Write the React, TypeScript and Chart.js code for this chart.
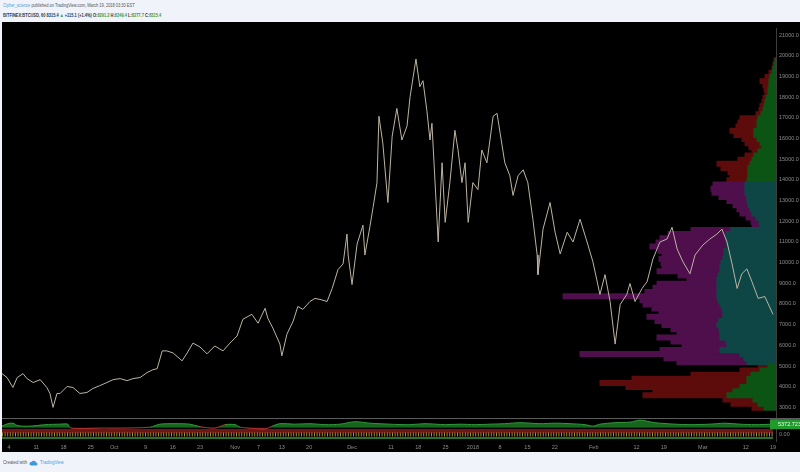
import React, { useEffect, useRef } from 'react';
import { Chart, registerables } from 'chart.js';

Chart.register(...registerables);

// ---- price series (BITFINEX:BTCUSD, 60) : day index since Sep 1 2017, price ----
const priceDays = [
  1.2, 2.5, 4.0, 5.1, 6.6, 7.6, 9.2, 11.0, 12.7, 13.5,
  14.3, 15.3, 16.1, 17.9, 19.4, 21.2, 23.0, 24.5, 26.3, 28.1,
  29.7, 31.5, 33.3, 34.8, 36.6, 38.4, 39.9, 41.0, 42.3, 43.5,
  45.1, 47.4, 48.7, 50.2, 52.0, 53.8, 55.8, 57.9, 59.7, 61.5,
  63.0, 65.3, 66.9, 68.7, 69.4, 70.7, 72.5, 73.0, 74.3, 75.9,
  77.1, 78.4, 80.2, 81.5, 82.8, 84.6, 85.9, 87.4, 88.7, 89.7,
  90.0, 91.0, 92.3, 93.8, 94.3, 95.6, 96.4, 97.4, 97.9, 98.9,
  100.2, 101.3, 102.5, 103.8, 105.1, 105.9, 107.4, 108.4, 109.2, 110.2,
  111.0, 111.5, 112.8, 113.1, 114.1, 114.9, 116.1, 117.4, 118.2, 119.2,
  120.0, 120.8, 122.0, 123.3, 124.3, 125.6, 127.2, 128.2, 129.0, 130.2,
  131.5, 132.3, 133.6, 134.9, 136.1, 137.4, 138.5, 138.7, 140.0, 141.8,
  143.1, 144.4, 146.2, 147.7, 149.5, 151.3, 152.8, 154.6, 155.9, 157.2,
  158.5, 159.8, 161.5, 162.3, 163.6, 165.4, 166.7, 168.2, 170.0, 171.8,
  173.1, 174.4, 175.9, 177.7, 179.0, 181.0, 182.8, 184.6, 185.9, 187.2,
  188.5, 189.8, 191.0, 192.3, 193.6, 195.2, 196.9, 199.0,
];
const priceValues = [
  4630, 4440, 3960, 4440, 4630, 4390, 4200, 4340, 3960, 3670,
  3000, 3670, 3670, 4010, 3960, 3670, 3720, 3910, 4050, 4200,
  4340, 4390, 4290, 4390, 4440, 4680, 4820, 4870, 5730, 5730,
  5630, 5250, 5630, 6110, 5920, 5590, 5970, 5730, 6110, 6450,
  7260, 7500, 7070, 7790, 7310, 6830, 6060, 5490, 6540, 7170,
  7880, 7740, 8120, 8270, 8220, 8120, 8750, 9660, 9940, 11380,
  10370, 8940, 10900, 11810, 10370, 11760, 12670, 13870, 17080, 15780,
  12910, 16120, 17460, 15930, 16600, 18030, 19850, 18510, 18800, 17360,
  15930, 16740, 12100, 11000, 14830, 11950, 13870, 16400, 15450, 13870,
  14830, 11950, 13870, 13530, 15450, 14830, 17080, 17220, 16260, 14830,
  14200, 13250, 14200, 14490, 13870, 12100, 10370, 9420, 11620, 12910,
  11470, 10420, 11470, 11000, 12100, 11000, 10040, 8460, 9420, 8120,
  6060, 7980, 8460, 8990, 8120, 8750, 9080, 10180, 11000, 11140,
  11710, 10660, 10040, 9460, 10370, 10850, 11140, 11380, 11620, 11000,
  9940, 8750, 9460, 9700, 9080, 8270, 8360, 7500,
];

// ---- axis ticks ----
const xTickDays = [3, 10, 17, 24, 30, 38, 45, 52, 61, 67, 73, 80, 91, 101, 108, 115, 122, 129, 136, 143, 153, 164, 171, 181, 192, 199];
const xTickLabels = ['4', '11', '18', '25', 'Oct', '9', '16', '23', 'Nov', '7', '13', '20', 'Dec', '11', '18', '25', '2018', '8', '15', '22', 'Feb', '12', '19', 'Mar', '12', '19'];
const priceTicks = [3000, 4000, 5000, 6000, 7000, 8000, 9000, 10000, 11000, 12000, 13000, 14000, 15000, 16000, 17000, 18000, 19000, 20000, 21000];

// ---- volume profile rows (price row centre, up volume, down volume) ----
const profilePrices = [
  19900, 19700, 19500, 19300, 19100, 18900, 18700, 18500, 18300, 18100,
  17900, 17700, 17500, 17300, 17100, 16900, 16700, 16500, 16300, 16100,
  15900, 15700, 15500, 15300, 15100, 14900, 14700, 14500, 14300, 14100,
  13900, 13700, 13500, 13300, 13100, 12900, 12700, 12500, 12300, 12100,
  11900, 11700, 11500, 11300, 11100, 10900, 10700, 10500, 10300, 10100,
  9900, 9700, 9500, 9300, 9100, 8900, 8700, 8500, 8300, 8100,
  7900, 7700, 7500, 7300, 7100, 6900, 6700, 6500, 6300, 6100,
  5900, 5700, 5500, 5300, 5100, 4900, 4700, 4500, 4300, 4100,
  3900, 3700, 3500, 3300, 3100,
];
const profileUp = [
  1, 2, 3, 4, 6, 7, 7, 8, 8, 10,
  11, 12, 13, 15, 18, 19, 19, 22, 22, 19,
  16, 14, 18, 22, 24, 26, 28, 28, 28, 29,
  31, 31, 31, 29, 29, 28, 26, 24, 20, 17,
  16, 45, 50, 50, 50, 49, 52, 52, 53, 55,
  56, 56, 58, 59, 59, 59, 59, 59, 58, 56,
  54, 53, 53, 57, 59, 57, 56, 56, 50, 49,
  56, 36, 32, 29, 8, 16, 25, 29, 29, 36,
  43, 49, 23, 18, 12,
];
const profileDown = [
  1, 1, 1, 3, 5, 9, 6, 4, 3, 3,
  3, 4, 4, 5, 18, 19, 21, 24, 20, 15,
  15, 13, 6, 9, 14, 33, 27, 20, 18, 20,
  32, 34, 33, 28, 20, 15, 13, 12, 10, 8,
  8, 40, 58, 66, 70, 77, 66, 62, 64, 60,
  58, 63, 40, 30, 60, 64, 72, 154, 78, 77,
  70, 64, 76, 64, 55, 48, 43, 63, 55, 45,
  60, 160, 80, 70, 10, 20, 60, 115, 147, 114,
  80, 84, 30, 27, 12,
];
const valueAreaLow = 5200;
const valueAreaHigh = 14000;

// ---- lower indicator ----
const indDays = [
  1.2, 2.7, 4.0, 5.3, 8.4, 12.2, 16.1, 18.1, 18.6, 21.2,
  26.3, 31.5, 39.2, 41.7, 45.6, 49.4, 52.0, 55.8, 58.4, 61.0,
  62.3, 66.1, 68.7, 70.5, 72.5, 76.4, 80.2, 84.1, 87.9, 91.8,
  95.6, 100.7, 105.9, 109.7, 114.9, 118.7, 122.6, 126.4, 130.2, 134.1,
  139.2, 143.1, 146.9, 150.8, 152.8, 154.6, 158.5, 162.3, 164.9, 168.7,
  173.9, 177.7, 182.8, 186.7, 190.5, 194.4, 199.0,
];
const indValues = [
  1.5, 4, 4.5, 2, 1.5, 3, 3.5, 3.5, 0, -1,
  -0.5, -0.5, 0.5, 3.5, 4, 3.5, 1, -0.5, 3, 3,
  0.5, -1, -1.5, 1.5, 4, 3.5, 4, 3, 3.5, 6,
  4.5, 3.5, 3, 4, 3, 3.5, 3, 3.5, 4, 5,
  4, 4.5, 4, 3, 1.5, 3.5, 5, 5.5, 7.5, 5,
  3.5, 3, 3.5, 4.5, 3.5, 3, 3.5,
];
const indicatorLabel = '5372.723';
const zeroLabel = '0.00';
const ribbonLevels = [-3.5, -7, -10.5];
const zeroLabelLevel = -6.5;
const separatorLevel = 9.5;

const X_MIN = 1.2;
const X_MAX = 199.77;
const PRICE_MIN = 1372;
const PRICE_MAX = 21335;

const GREEN = '#0c5414';
const RED = '#5e0b0b';
const PURPLE = '#4e0f4c';
const TEAL = '#0e4646';

export default function App() {
  const canvasRef = useRef<HTMLCanvasElement | null>(null);

  useEffect(() => {
    document.body.style.margin = '0';
    const canvas = canvasRef.current;
    if (!canvas) return;
    const inVA = (p: number) => p >= valueAreaLow && p <= valueAreaHigh;
    const upColors = profilePrices.map((p) => (inVA(p) ? TEAL : GREEN));
    const downColors = profilePrices.map((p) => (inVA(p) ? PURPLE : RED));
    const lastDay = priceDays[priceDays.length - 1];

    const bgPlugin = {
      id: 'bg',
      beforeDraw(chart: any) {
        const { ctx } = chart;
        ctx.save();
        ctx.fillStyle = '#000';
        ctx.fillRect(0, 0, chart.width, chart.height);
        ctx.restore();
      },
    };
    const overlayPlugin = {
      id: 'overlay',
      afterDraw(chart: any) {
        const { ctx, chartArea, scales } = chart;
        const yi = scales.yi;
        const W = chart.width;
        ctx.save();
        const ySep = Math.round(yi.getPixelForValue(separatorLevel)) + 0.5;
        ctx.strokeStyle = '#5c5c5c';
        ctx.lineWidth = 1;
        ctx.beginPath();
        ctx.moveTo(0, ySep);
        ctx.lineTo(W, ySep);
        ctx.stroke();
        const yl = yi.getPixelForValue(indValues[indValues.length - 1]);
        ctx.fillStyle = '#1f9a2c';
        ctx.fillRect(chartArea.right - 6, yl - 5, W - chartArea.right + 6, 10);
        ctx.font = '5.5px "Liberation Sans", Arial, sans-serif';
        ctx.textBaseline = 'middle';
        ctx.textAlign = 'left';
        ctx.fillStyle = '#e9ffe9';
        ctx.fillText(indicatorLabel, chartArea.right + 2, yl);
        ctx.fillStyle = '#8c8c8c';
        ctx.fillText(zeroLabel, chartArea.right + 3, yi.getPixelForValue(zeroLabelLevel));
        ctx.restore();
      },
    };

    const tickFont = { size: 5.5, family: '"Liberation Sans", Arial, sans-serif' };

    const profileBar = {
      type: 'bar',
      indexAxis: 'y',
      xAxisID: 'xv',
      yAxisID: 'y',
      stack: 'vp',
      borderWidth: 0,
      barThickness: 5,
      inflateAmount: 0.5,
      order: 5,
    };

    const chart = new Chart(canvas, {
      type: 'line',
      data: {
        datasets: [
          {
            type: 'line',
            label: 'price',
            data: priceDays.map((d, i) => ({ x: d, y: priceValues[i] })),
            xAxisID: 'x',
            yAxisID: 'y',
            borderColor: '#bdb4a2',
            borderWidth: 1,
            pointRadius: 0,
            tension: 0,
            fill: false,
            order: 0,
          },
          {
            ...profileBar,
            label: 'up volume',
            data: profilePrices.map((p, i) => ({ y: p, x: profileUp[i] })),
            backgroundColor: upColors,
          } as any,
          {
            ...profileBar,
            label: 'down volume',
            data: profilePrices.map((p, i) => ({ y: p, x: profileDown[i] })),
            backgroundColor: downColors,
          } as any,
          {
            type: 'line',
            label: 'ribbon red',
            data: [{ x: X_MIN, y: ribbonLevels[0] }, { x: lastDay, y: ribbonLevels[0] }],
            xAxisID: 'x',
            yAxisID: 'yi',
            borderColor: '#6e1616',
            borderWidth: 4,
            pointRadius: 0,
            fill: false,
            order: 3,
          },
          {
            type: 'line',
            label: 'ribbon yellow',
            data: [{ x: X_MIN, y: ribbonLevels[1] }, { x: lastDay, y: ribbonLevels[1] }],
            xAxisID: 'x',
            yAxisID: 'yi',
            borderColor: '#a39335',
            borderWidth: 4,
            borderDash: [1, 1.6],
            pointRadius: 0,
            fill: false,
            order: 2,
          },
          {
            type: 'line',
            label: 'ribbon green',
            data: [{ x: X_MIN, y: ribbonLevels[2] }, { x: lastDay, y: ribbonLevels[2] }],
            xAxisID: 'x',
            yAxisID: 'yi',
            borderColor: '#2b702b',
            borderWidth: 2,
            pointRadius: 0,
            fill: false,
            order: 2,
          },
          {
            type: 'line',
            label: 'indicator',
            data: indDays.map((d, i) => ({ x: d, y: indValues[i] })),
            xAxisID: 'x',
            yAxisID: 'yi',
            borderColor: '#2f9a3a',
            borderWidth: 1,
            pointRadius: 0,
            tension: 0.3,
            fill: { target: 'origin', above: 'rgba(26,112,32,0.9)', below: 'rgba(150,32,32,0.85)' },
            segment: {
              borderColor: (c: any) => (c.p0.parsed.y < 0 || c.p1.parsed.y < 0 ? '#b03232' : '#2f9a3a'),
            },
            order: 1,
          } as any,
        ],
      },
      options: {
        animation: false,
        responsive: false,
        events: [],
        layout: { padding: { top: 2, left: 0, right: 0, bottom: 0 } },
        plugins: { legend: { display: false }, tooltip: { enabled: false } },
        scales: {
          x: {
            type: 'linear',
            position: 'bottom',
            min: X_MIN,
            max: X_MAX,
            offset: false,
            grid: { display: false, drawTicks: false },
            border: { display: false },
            afterBuildTicks: (s: any) => {
              s.ticks = xTickDays.map((v) => ({ value: v }));
            },
            afterFit: (s: any) => {
              s.height = 11;
            },
            ticks: {
              autoSkip: false,
              maxRotation: 0,
              padding: 3,
              color: '#8c8c8c',
              font: tickFont,
              callback: (_v: any, i: number) => xTickLabels[i],
            },
          },
          y: {
            type: 'linear',
            position: 'right',
            min: PRICE_MIN,
            max: PRICE_MAX,
            offset: false,
            grid: { display: false, drawTicks: false },
            border: { display: true, color: '#3c3c3c' },
            afterBuildTicks: (s: any) => {
              s.ticks = priceTicks.map((v) => ({ value: v }));
            },
            afterFit: (s: any) => {
              s.width = 24;
            },
            ticks: {
              padding: 3,
              color: '#8c8c8c',
              font: tickFont,
              callback: (v: any) => Number(v).toFixed(1),
            },
          },
          xv: {
            type: 'linear',
            axis: 'x',
            display: false,
            reverse: true,
            min: 0,
            max: 774,
            stacked: true,
          },
          yi: {
            type: 'linear',
            axis: 'y',
            display: false,
            min: -13.5,
            max: 403.5,
          },
        } as any,
      },
      plugins: [bgPlugin, overlayPlugin],
    } as any);

    return () => chart.destroy();
  }, []);

  const green = { color: '#3a9a44' };
  const font = '"Liberation Sans", Arial, sans-serif';

  return (
    <div style={{ position: 'relative', width: 800, height: 472, background: '#f0f3f9', overflow: 'hidden', fontFamily: font }}>
      <div style={{ position: 'absolute', left: 3, top: 2, fontSize: 5.5, lineHeight: '7px', color: '#555', whiteSpace: 'nowrap', transform: 'scaleX(0.72)', transformOrigin: 'left top' }}>
        <span style={{ color: '#4aa0da' }}>Cipher_science</span> published on TradingView.com, March 19, 2018 03:30 EST
      </div>
      <div style={{ position: 'absolute', left: 3, top: 12, fontSize: 5.5, lineHeight: '7px', color: '#333', whiteSpace: 'nowrap', transform: 'scaleX(0.72)', transformOrigin: 'left top', fontWeight: 'bold' }}>
        BITFINEX:BTCUSD, 60 8315.4 <span style={green}>▲</span> +115.1 (+1.4%) O:<span style={green}>8291.2</span> H:<span style={green}>8349.4</span> L:<span style={green}>8277.7</span> C:<span style={green}>8315.4</span>
      </div>
      <canvas ref={canvasRef} width={798} height={430} style={{ position: 'absolute', left: 2, top: 22, width: 798, height: 430, background: '#000' }} />
      <div style={{ position: 'absolute', left: 3, top: 459, fontSize: 5.5, lineHeight: '7px', color: '#555', whiteSpace: 'nowrap', display: 'flex', alignItems: 'center' }}>
        <span style={{ display: 'inline-block', transform: 'scaleX(0.78)', transformOrigin: 'left center', width: 24 }}>Created with</span>
        <svg width="9" height="7" viewBox="0 0 9 7" style={{ marginLeft: 2, marginRight: 2 }}>
          <path d="M2 6.5 H7 A1.5 1.5 0 0 0 7 3.5 A2.3 2.3 0 0 0 2.7 2.9 A1.8 1.8 0 0 0 2 6.5 Z" fill="#3d9ad6" />
        </svg>
        <span style={{ color: '#4aa0da', display: 'inline-block', transform: 'scaleX(0.78)', transformOrigin: 'left center' }}>TradingView</span>
      </div>
    </div>
  );
}
